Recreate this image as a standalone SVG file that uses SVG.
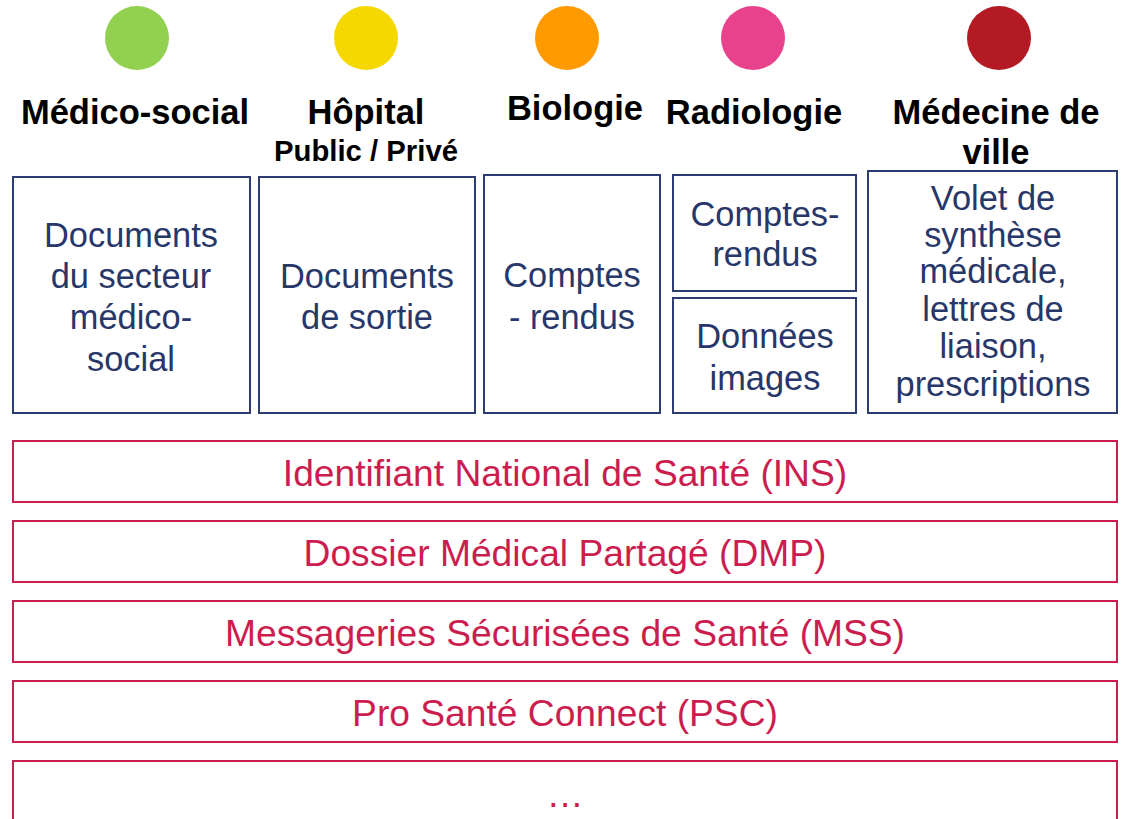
<svg xmlns="http://www.w3.org/2000/svg" width="1130" height="819" viewBox="0 0 1130 819">
<style>
.hd{font-family:"Liberation Sans",Arial,sans-serif;font-weight:bold;font-size:34.5px;fill:#000;text-anchor:middle}
.sub{font-family:"Liberation Sans",Arial,sans-serif;font-weight:bold;font-size:29.3px;fill:#000;text-anchor:middle}
.box{fill:#fff;stroke:#2F3C73;stroke-width:2}
.bt{font-family:"Liberation Sans",Arial,sans-serif;font-size:34.4px;fill:#283769;text-anchor:middle}
.bar{fill:#fff;stroke:#CC1D4F;stroke-width:2}
.rt{font-family:"Liberation Sans",Arial,sans-serif;font-size:37.2px;fill:#CC1D4F;text-anchor:middle}
</style>
<rect width="1130" height="819" fill="#fff"/>
<g id="medico-social">
<circle cx="137" cy="38" r="32" fill="#92D050"/>
<text class="hd" x="135" y="124">Médico-social</text>
<rect class="box" x="13" y="177" width="237" height="236"/>
<text class="bt" x="131" y="247">Documents</text>
<text class="bt" x="131" y="288">du secteur</text>
<text class="bt" x="131" y="329">médico-</text>
<text class="bt" x="131" y="371">social</text>
</g>
<g id="hopital">
<circle cx="366" cy="38" r="32" fill="#F5D800"/>
<text class="hd" x="366" y="124">Hôpital</text>
<text class="sub" x="366" y="161">Public / Privé</text>
<rect class="box" x="259" y="177" width="216" height="236"/>
<text class="bt" x="367" y="288">Documents</text>
<text class="bt" x="367" y="329">de sortie</text>
</g>
<g id="biologie">
<circle cx="567" cy="38" r="32" fill="#FF9A00"/>
<text class="hd" x="575" y="120">Biologie</text>
<rect class="box" x="484" y="175" width="176" height="238"/>
<text class="bt" x="572" y="287">Comptes</text>
<text class="bt" x="572" y="329">- rendus</text>
</g>
<g id="radiologie">
<circle cx="753" cy="38" r="32" fill="#E8428C"/>
<text class="hd" x="754" y="124">Radiologie</text>
<rect class="box" x="673" y="175" width="183" height="116"/>
<text class="bt" x="765" y="226">Comptes-</text>
<text class="bt" x="765" y="266">rendus</text>
<rect class="box" x="673" y="298" width="183" height="115"/>
<text class="bt" x="765" y="348">Données</text>
<text class="bt" x="765" y="390">images</text>
</g>
<g id="medecine-de-ville">
<circle cx="999" cy="38" r="32" fill="#B31A23"/>
<text class="hd" x="996" y="124">Médecine de</text>
<text class="hd" x="996" y="164">ville</text>
<rect class="box" x="868" y="171" width="249" height="242"/>
<text class="bt" x="993" y="210">Volet de</text>
<text class="bt" x="993" y="247">synthèse</text>
<text class="bt" x="993" y="283">médicale,</text>
<text class="bt" x="993" y="321">lettres de</text>
<text class="bt" x="993" y="358">liaison,</text>
<text class="bt" x="993" y="396">prescriptions</text>
</g>
<g id="ins">
<rect class="bar" x="13" y="441" width="1104" height="61"/>
<text class="rt" x="565" y="486">Identifiant National de Santé (INS)</text>
</g>
<g id="dmp">
<rect class="bar" x="13" y="521" width="1104" height="61"/>
<text class="rt" x="565" y="566">Dossier Médical Partagé (DMP)</text>
</g>
<g id="mss">
<rect class="bar" x="13" y="601" width="1104" height="61"/>
<text class="rt" x="565" y="646">Messageries Sécurisées de Santé (MSS)</text>
</g>
<g id="psc">
<rect class="bar" x="13" y="681" width="1104" height="61"/>
<text class="rt" x="565" y="726">Pro Santé Connect (PSC)</text>
</g>
<g id="etc">
<rect class="bar" x="13" y="761" width="1104" height="80"/>
<text class="rt" x="565" y="807">…</text>
</g>
<g id="connectors"></g>
</svg>
